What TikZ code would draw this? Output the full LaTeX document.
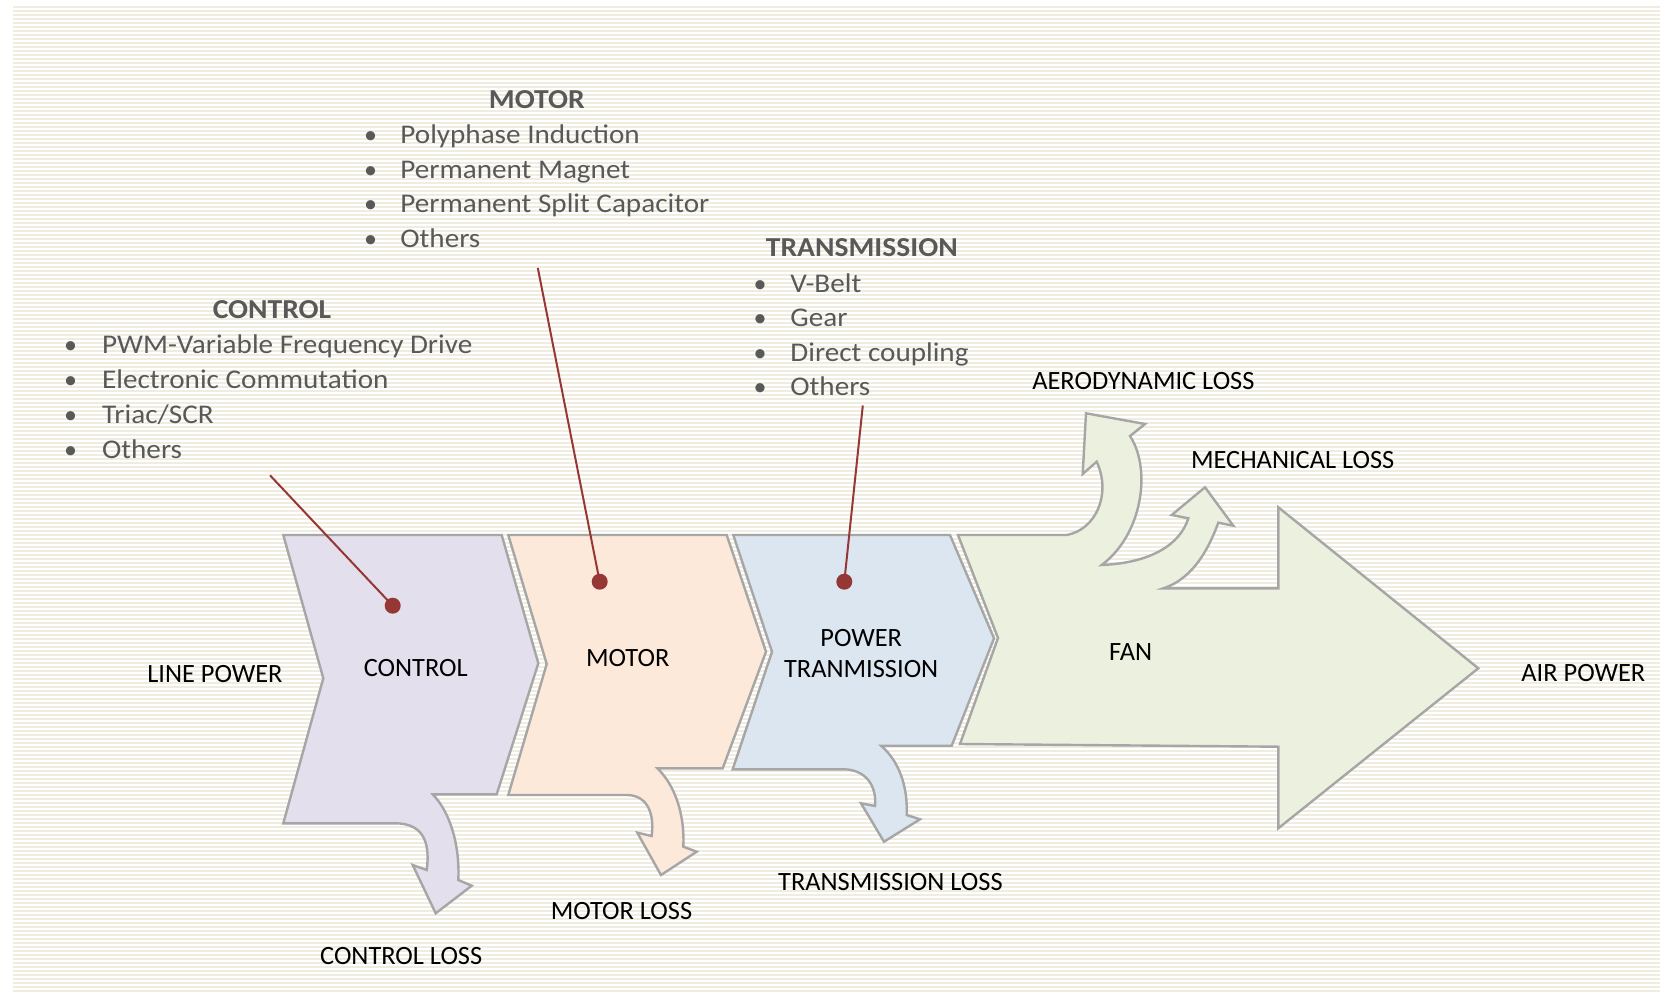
\documentclass[tikz,border=0pt]{standalone}
\usepackage{fontspec}
\setmainfont{Carlito}
\newfontfamily\listfont[FakeStretch=1.08]{Carlito}
\definecolor{stripe}{HTML}{F0ECDF}
\definecolor{ctrlfill}{HTML}{E4DFEC}
\definecolor{motfill}{HTML}{FDE9D9}
\definecolor{trfill}{HTML}{DCE6F1}
\definecolor{fanfill}{HTML}{EBF1DE}
\definecolor{edge}{HTML}{A6A6A6}
\definecolor{listgray}{HTML}{595959}
\definecolor{callout}{HTML}{953735}
\tikzset{
  blockshape/.style={draw=edge, line width=1.2pt, line join=miter},
  lbl/.style={anchor=base, inner sep=0pt, font=\fontsize{13.2}{15}\selectfont, text=black},
  head/.style={anchor=base, inner sep=0pt, font=\listfont\fontsize{13.7}{15}\selectfont\bfseries, text=listgray},
  item/.style={anchor=base west, inner sep=0pt, font=\listfont\fontsize{13.5}{15}\selectfont, text=listgray},
  bul/.style={anchor=base, inner sep=0pt, font=\fontsize{13}{15}\selectfont, text=listgray},
  calloutline/.style={draw=callout, line width=1pt},
  dotmark/.style={circle, fill=callout, inner sep=0pt, minimum size=8pt}
}
\begin{document}
\begin{tikzpicture}[x=0.5pt,y=-0.5pt]
\useasboundingbox (0,0) rectangle (1660,995);
\fill[white] (0,0) rectangle (1660,995);
\foreach \i in {0,...,246} {\fill[stripe] (13,{6+4*\i}) rectangle (1660,{8+4*\i});}

% CONTROL block
\path[blockshape, fill=ctrlfill] (283.3,535) -- (501.7,535) -- (538.3,663.3) -- (496.7,794.3) -- (432.7,794.3)
  .. controls (450,812) and (460,845) .. (458.3,880)
  -- (471.7,885.7) -- (435.7,913.3) -- (412.7,865) -- (426.7,870)
  .. controls (431,838) and (420,823.3) .. (395,823.3)
  -- (283.3,823.3) -- (323.3,678.3) -- cycle;
% MOTOR block
\path[blockshape, fill=motfill] (508.3,535) -- (726.7,535) -- (766,651.7) -- (722.7,768.3) -- (657.3,768.3)
  .. controls (675,785) and (685,815) .. (683.3,846.7)
  -- (696.7,851.7) -- (661,875) -- (637.3,832.7) -- (651.7,836)
  .. controls (655,810) and (645,795) .. (626.7,795)
  -- (508.3,795) -- (546.7,664) -- cycle;
% TRANSMISSION block
\path[blockshape, fill=trfill] (733.3,535) -- (950,535) -- (994,638.3) -- (951.7,745.7) -- (881,745.7)
  .. controls (898,760) and (908,785) .. (906.7,815)
  -- (920,819.3) -- (884,841.7) -- (861,803.3) -- (875,806)
  .. controls (877,785) and (865,769.3) .. (843.3,769.3)
  -- (732.7,769.3) -- (772,651.7) -- cycle;
% FAN block
\path[blockshape, fill=fanfill] (958,535) -- (1066.7,535)
  .. controls (1095,530) and (1112,495) .. (1096.7,461.7)
  -- (1082.7,474) -- (1086,413.3) -- (1145,424) -- (1130,436)
  .. controls (1152,470) and (1142,535) .. (1101.7,565)
  .. controls (1150,563) and (1180,545) .. (1188.3,518.3)
  -- (1171.7,515) -- (1205,487.3) -- (1233.3,525.7) -- (1218.3,522.7)
  .. controls (1210,545) and (1195,578) .. (1163.3,588.3)
  -- (1278.3,588.3) -- (1278.3,507.3) -- (1478.3,668.3) -- (1278.3,828.3) -- (1278.3,746.7)
  -- (960,744) -- (998,638) -- cycle;

% labels
\node[lbl] (linepower) at (214.9,682.4) {LINE POWER};
\node[lbl] (ctrl) at (415.7,676.3) {CONTROL};
\node[lbl] (motor) at (627.7,666.5) {MOTOR};
\node[lbl] (power) at (861.2,646) {POWER};
\node[lbl] (tranm) at (861.2,677.3) {TRANMISSION};
\node[lbl] (fan) at (1130.7,660) {FAN};
\node[lbl] (airpower) at (1583.3,681.7) {AIR POWER};
\node[lbl] (aeroloss) at (1143.4,389) {AERODYNAMIC LOSS};
\node[lbl] (mechloss) at (1292.7,468.3) {MECHANICAL LOSS};
\node[lbl] (trloss) at (890.4,890) {TRANSMISSION LOSS};
\node[lbl] (motloss) at (621.5,919.5) {MOTOR LOSS};
\node[lbl] (ctrlloss) at (401.2,964) {CONTROL LOSS};

% MOTOR list
\node[head] (motorhead) at (536.8,108.3) {MOTOR};
\node[bul] (mb1) at (370.7,143.3) {•};
\node[item] (mi1) at (400,143.3) {Polyphase Induction};
\node[bul] (mb2) at (370.7,178) {•};
\node[item] (mi2) at (400,178) {Permanent Magnet};
\node[bul] (mb3) at (370.7,212.7) {•};
\node[item] (mi3) at (400,212.7) {Permanent Split Capacitor};
\node[bul] (mb4) at (370.7,247.3) {•};
\node[item] (mi4) at (400,247.3) {Others};

% CONTROL list
\node[head] (ctrlhead) at (272,318.3) {CONTROL};
\node[bul] (cb1) at (70.5,353.3) {•};
\node[item] (ci1) at (101.7,353.3) {PWM-Variable Frequency Drive};
\node[bul] (cb2) at (70.5,388.3) {•};
\node[item] (ci2) at (101.7,388.3) {Electronic Commutation};
\node[bul] (cb3) at (70.5,423.3) {•};
\node[item] (ci3) at (101.7,423.3) {Triac/SCR};
\node[bul] (cb4) at (70.5,458) {•};
\node[item] (ci4) at (101.7,458) {Others};

% TRANSMISSION list
\node[head] (trhead) at (861.8,256.7) {TRANSMISSION};
\node[bul] (tb1) at (760,292) {•};
\node[item] (ti1) at (790,292) {V-Belt};
\node[bul] (tb2) at (760,326.5) {•};
\node[item] (ti2) at (790,326.5) {Gear};
\node[bul] (tb3) at (760,361) {•};
\node[item] (ti3) at (790,361) {Direct coupling};
\node[bul] (tb4) at (760,395.5) {•};
\node[item] (ti4) at (790,395.5) {Others};

% callouts
\node[dotmark] (cdot) at (392.7,605.7) {};
\node[dotmark] (mdot) at (599.7,581.7) {};
\node[dotmark] (tdot) at (844.3,581.7) {};
\coordinate (cstart) at (270,475.3);
\coordinate (mstart) at (537.8,267.9);
\coordinate (tstart) at (862.8,405.5);
\draw[calloutline] (cstart) -- (cdot.center);
\draw[calloutline] (mstart) -- (mdot.center);
\draw[calloutline] (tstart) -- (tdot.center);
\end{tikzpicture}
\end{document}
